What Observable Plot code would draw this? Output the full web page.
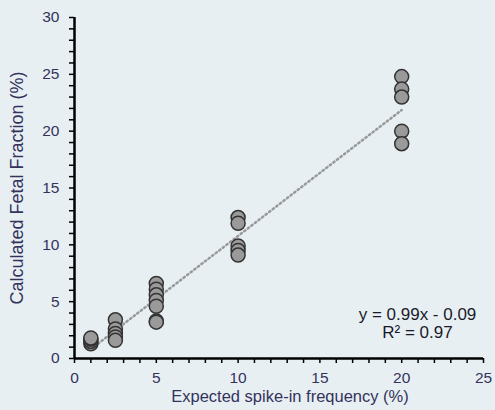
<!DOCTYPE html>
<html><head><meta charset="utf-8">
<script src="https://cdn.jsdelivr.net/npm/d3@7"></script>
<script src="https://cdn.jsdelivr.net/npm/@observablehq/plot@0.6"></script>
<style>
body{margin:0;background:#e8eff3;}
#c{width:495px;height:410px;}
</style></head><body><div id="c"></div>
<script>
const expected = [1,1,1,1, 2.5,2.5,2.5,2.5,2.5, 5,5,5,5,5,5,5, 10,10,10,10,10, 20,20,20,20,20];
const calculated = [1.3,1.5,1.7,1.8, 3.4,2.6,2.2,1.9,1.6, 6.6,6.1,5.6,5.1,4.6,3.3,3.2, 12.4,11.9,9.9,9.5,9.1, 24.8,23.7,23.0,20.0,18.9];
const xTicks = [0,5,10,15,20,25];
const yTicks = [0,5,10,15,20,25,30];
const eqLines = ["y = 0.99x - 0.09", "R² = 0.97"];
const xLabel = "Expected spike-in frequency (%)";
const yLabel = "Calculated Fetal Fraction (%)";

const data = expected.map((x,i)=>({x, y: calculated[i]}));
const textColor = "#33335c";

const chart = Plot.plot({
  width: 495, height: 410,
  marginLeft: 74, marginRight: 12, marginTop: 17, marginBottom: 52,
  style: {background: "#e8eff3", fontFamily: "'Liberation Sans', Arial, sans-serif", color: textColor},
  x: {domain: [0,25]},
  y: {domain: [0,30]},
  marks: [
    Plot.axisX({ticks: d3.range(0,26,1), tickSize: 5, tickFormat: d => xTicks.includes(d) ? String(d) : "", fontSize: 15.5, tickPadding: 8, stroke: "#000", strokeWidth: 1.5, fill: textColor, label: null}),
    Plot.axisY({ticks: d3.range(0,31,1), tickSize: 5, tickFormat: d => yTicks.includes(d) ? String(d) : "", fontSize: 15.5, tickPadding: 10, stroke: "#000", strokeWidth: 1.5, fill: textColor, label: null}),
    Plot.axisY({ticks: [], tickSize: 0, label: yLabel, labelAnchor: "center", labelArrow: "none", labelOffset: 64, fontSize: 18, dy: 8, fill: textColor}),
    Plot.text([xLabel], {frameAnchor: "bottom", dx: 11, dy: 43, fontSize: 16.5, fill: textColor}),
    Plot.linearRegressionY(data, {x: "x", y: "y", stroke: "#999", strokeWidth: 2.5, strokeDasharray: "1.5,3", ci: 0}),
    Plot.dot(data, {x: "x", y: "y", r: 7, fill: "#9a9a9a", stroke: "#333", strokeWidth: 1.5}),
    Plot.ruleY([0], {stroke: "#000", strokeWidth: 2.5}),
    Plot.ruleX([0], {stroke: "#000", strokeWidth: 2.5}),
    Plot.text([eqLines[0]], {frameAnchor: "bottom-right", textAnchor: "middle", dx: -66, dy: -39, fontSize: 17, fill: "#1a1a2a"}),
    Plot.text([eqLines[1]], {frameAnchor: "bottom-right", textAnchor: "middle", dx: -66, dy: -21, fontSize: 17, fill: "#1a1a2a"})
  ]
});
document.getElementById("c").appendChild(chart);
</script></body></html>
